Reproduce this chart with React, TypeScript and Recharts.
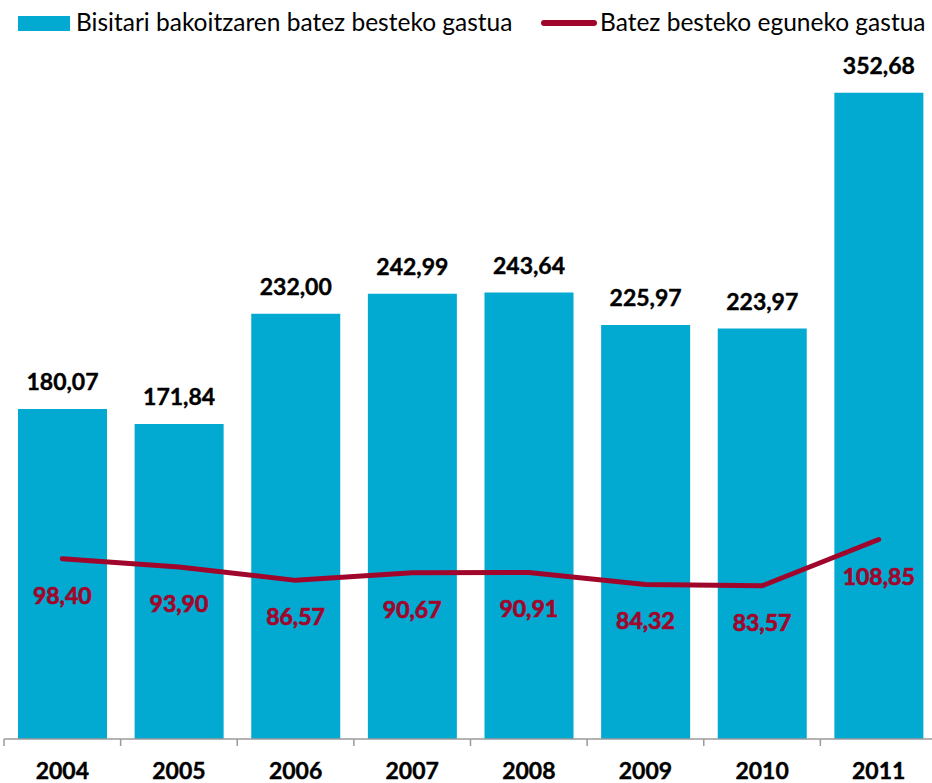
import { Bar, ComposedChart, LabelList, Line, XAxis, YAxis } from "recharts";

const years = ["2004", "2005", "2006", "2007", "2008", "2009", "2010", "2011"];
const perVisitor = [180.07, 171.84, 232.0, 242.99, 243.64, 225.97, 223.97, 352.68];
const perDay = [98.4, 93.9, 86.57, 90.67, 90.91, 84.32, 83.57, 108.85];

const BAR_COLOR = "#02aad1";
const LINE_COLOR = "#a0062b";
const AXIS_COLOR = "#9a9a9a";
const FONT = "Lato, 'Open Sans', sans-serif";

const CHART_W = 938;
const MARGIN = { top: 6, right: 1, left: 4, bottom: 0 };
const BAND = (CHART_W - MARGIN.left - MARGIN.right) / years.length;

const fmt = (v: number) => v.toFixed(2).replace(".", ",");

const data = years.map((year, i) => ({
  year,
  visitor: perVisitor[i],
  day: perDay[i],
}));

// year label at band centre, tick mark at the band's left edge (Excel style)
function YearTick(props: any) {
  const { x, y, payload } = props;
  const left = x - BAND / 2;
  return (
    <g>
      <line x1={left} x2={left} y1={y} y2={y + 7} stroke={AXIS_COLOR} strokeWidth={1.5} />
      <text
        x={x}
        y={y + 40}
        textAnchor="middle"
        fill="#000"
        stroke="#000"
        strokeWidth={0.4}
        fontSize={23}
        fontWeight={700}
        fontFamily={FONT}
      >
        {payload.value}
      </text>
    </g>
  );
}

function DayLabel(props: any) {
  const { x, y, value } = props;
  return (
    <text
      x={x}
      y={y + 45}
      textAnchor="middle"
      fill={LINE_COLOR}
      stroke={LINE_COLOR}
      strokeWidth={0.7}
      fontSize={23}
      fontWeight={700}
      fontFamily={FONT}
    >
      {fmt(Number(value))}
    </text>
  );
}

export default function App() {
  return (
    <div
      style={{
        position: "absolute",
        left: 0,
        top: 0,
        width: 932,
        height: 783,
        overflow: "hidden",
        background: "#fff",
        fontFamily: FONT,
      }}
    >
      <ComposedChart width={CHART_W} height={783} data={data} margin={MARGIN}>
        <XAxis
          dataKey="year"
          height={44}
          axisLine={{ stroke: AXIS_COLOR, strokeWidth: 1.5 }}
          tickLine={false}
          tickSize={0}
          tickMargin={0}
          tick={<YearTick />}
          interval={0}
        />
        <YAxis hide domain={[0, 400]} />
        <Bar dataKey="visitor" fill={BAR_COLOR} barSize={89} isAnimationActive={false}>
          <LabelList
            dataKey="visitor"
            position="top"
            offset={19}
            formatter={(v: any) => fmt(Number(v))}
            fill="#000"
            stroke="#000"
            strokeWidth={0.4}
            fontSize={23}
            fontWeight={700}
            fontFamily={FONT}
          />
        </Bar>
        <Line
          dataKey="day"
          stroke={LINE_COLOR}
          strokeWidth={5}
          strokeLinecap="round"
          dot={false}
          activeDot={false}
          isAnimationActive={false}
        >
          <LabelList dataKey="day" content={<DayLabel />} />
        </Line>
      </ComposedChart>
      <div style={{ position: "absolute", left: 18, top: 16, width: 52, height: 15, background: BAR_COLOR }} />
      <div
        style={{
          position: "absolute",
          left: 76,
          top: 7,
          fontSize: 24.5,
          lineHeight: "30px",
          color: "#000",
          whiteSpace: "nowrap",
        }}
      >
        Bisitari bakoitzaren batez besteko gastua
      </div>
      <div
        style={{
          position: "absolute",
          left: 541,
          top: 20,
          width: 56,
          height: 6,
          borderRadius: 3,
          background: LINE_COLOR,
        }}
      />
      <div
        style={{
          position: "absolute",
          left: 600,
          top: 7,
          fontSize: 24.5,
          lineHeight: "30px",
          color: "#000",
          whiteSpace: "nowrap",
        }}
      >
        Batez besteko eguneko gastua
      </div>
    </div>
  );
}
